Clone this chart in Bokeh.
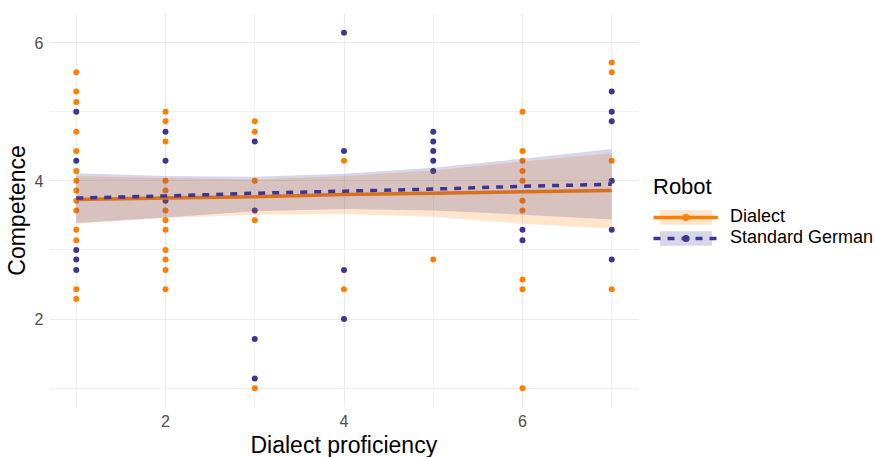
from bokeh.plotting import figure
from bokeh.models import FixedTicker, Legend, LegendItem, Range1d, Grid, Title
from bokeh.embed import file_html
from bokeh.resources import INLINE

# ---------------- data ----------------
dialect_prof = [1]*14 + [2]*12 + [3]*5 + [4]*2 + [5]*1 + [6]*10 + [7]*4
dialect_comp = [5.57, 5.29, 5.14, 4.71, 4.43, 4.14, 4.00, 3.86, 3.71, 3.57, 3.29, 3.14, 2.43, 2.29,
                5.00, 4.86, 4.57, 4.00, 3.86, 3.57, 3.43, 3.29, 3.00, 2.86, 2.71, 2.43,
                4.86, 4.71, 4.00, 3.43, 1.00,
                4.29, 2.43,
                2.86,
                5.00, 4.43, 4.29, 4.14, 4.00, 3.71, 3.57, 2.57, 2.43, 1.00,
                5.71, 5.57, 4.29, 2.43]

sg_prof = [1]*5 + [2]*3 + [3]*4 + [4]*4 + [5]*5 + [6]*2 + [7]*6
sg_comp = [5.00, 4.29, 3.00, 2.86, 2.71,
           4.71, 4.29, 3.71,
           4.57, 3.57, 1.71, 1.14,
           6.14, 4.43, 2.71, 2.00,
           4.71, 4.57, 4.43, 4.29, 4.14,
           3.29, 3.14,
           5.29, 5.00, 4.86, 4.00, 3.29, 2.86]

fit_x = [1, 2, 3, 4, 5, 6, 7]
dialect_fit = [3.73, 3.75, 3.77, 3.80, 3.82, 3.84, 3.86]
dialect_lower = [3.38, 3.46, 3.51, 3.52, 3.48, 3.38, 3.31]
dialect_upper = [4.07, 4.04, 4.02, 4.07, 4.15, 4.28, 4.40]
sg_fit = [3.75, 3.78, 3.82, 3.85, 3.88, 3.92, 3.95]
sg_lower = [3.39, 3.47, 3.56, 3.59, 3.57, 3.51, 3.44]
sg_upper = [4.11, 4.07, 4.06, 4.10, 4.19, 4.32, 4.46]

x_ticks = [2, 4, 6]
x_minor = [1, 3, 5, 7]
y_ticks = [2, 4, 6]
y_minor = [1, 3, 5]

series_names = ["Dialect", "Standard German"]
legend_title = "Robot"
x_title = "Dialect proficiency"
y_title = "Competence"

# ---------------- styling / layout ----------------
ORANGE = "#FF7F00"
PURPLE = "#3E3590"
FONT = "Liberation Sans"

X_LO, X_HI = 0.7, 7.3          # data panel extent
PANEL_W = 589                   # px of the data panel
W, H = 875, 457
LEFT, TOP, BOTTOM = 49, 13, 48
x_end = X_LO + (X_HI - X_LO) * (W - LEFT) / PANEL_W   # frame extends under the legend

p = figure(width=W, height=H, output_backend="svg", toolbar_location=None,
           x_range=Range1d(X_LO, x_end), y_range=Range1d(0.72, 6.42),
           min_border_left=LEFT, min_border_right=0, min_border_top=TOP, min_border_bottom=BOTTOM)
p.outline_line_color = None
p.background_fill_color = "white"
p.border_fill_color = "white"

# points
pts_d = p.scatter(dialect_prof, dialect_comp, size=6, color=ORANGE, line_color=None)
pts_s = p.scatter(sg_prof, sg_comp, size=6, color=PURPLE, line_color=None)

# smooth fits with confidence bands
rib_d = p.varea(x=fit_x, y1=dialect_lower, y2=dialect_upper, fill_color=ORANGE, fill_alpha=0.2)
line_d = p.line(fit_x, dialect_fit, line_color=ORANGE, line_width=3.5)
rib_s = p.varea(x=fit_x, y1=sg_lower, y2=sg_upper, fill_color=PURPLE, fill_alpha=0.2)
line_s = p.line(fit_x, sg_fit, line_color=PURPLE, line_width=3.5, line_dash="7 7")

# axes
for ax, ticks, minor in ((p.xaxis[0], x_ticks, x_minor), (p.yaxis[0], y_ticks, y_minor)):
    ax.ticker = FixedTicker(ticks=ticks, minor_ticks=minor)
    ax.axis_line_color = None
    ax.major_tick_line_color = None
    ax.minor_tick_line_color = None
    ax.major_tick_out = 0
    ax.minor_tick_out = 0
    ax.major_tick_in = 0
    ax.minor_tick_in = 0
    ax.major_label_text_font = FONT
    ax.major_label_text_font_size = "16px"
    ax.major_label_text_color = "#4D4D4D"
    ax.major_label_standoff = 6
    ax.axis_label_text_font = FONT
    ax.axis_label_text_font_size = "23px"
    ax.axis_label_text_font_style = "normal"
    ax.axis_label_text_color = "black"

p.xaxis.bounds = (X_LO, X_HI)
p.xaxis.major_label_standoff = 7
p.yaxis.axis_label = y_title
p.yaxis.axis_label_standoff = 2

# x-axis title, centred under the data panel
p.add_layout(Title(text=x_title, align="left", offset=201, standoff=0,
                   text_font=FONT, text_font_size="23px", text_font_style="normal",
                   text_color="black"), "below")

for g in (p.xgrid[0], p.ygrid[0]):
    g.grid_line_color = "#EBEBEB"
    g.grid_line_width = 1.1
    g.minor_grid_line_color = "#F1F1F1"
    g.minor_grid_line_width = 1
if "cross_bounds" in Grid.properties():
    p.ygrid[0].cross_bounds = (X_LO, X_HI)

legend = Legend(items=[LegendItem(label=series_names[0], renderers=[rib_d, line_d, pts_d]),
                       LegendItem(label=series_names[1], renderers=[rib_s, line_s, pts_s])],
                location=(PANEL_W + 15, 159), title=legend_title,
                title_text_font=FONT, title_text_font_size="22px", title_text_font_style="normal",
                title_text_color="black", title_standoff=6,
                label_text_font=FONT, label_text_font_size="18px", label_text_color="black",
                label_text_line_height=1.0, label_height=18,
                glyph_width=65, glyph_height=18, label_standoff=12, spacing=0,
                padding=0, margin=0, background_fill_alpha=0, border_line_alpha=0)
p.add_layout(legend)

open("out.html", "w").write(file_html(p, INLINE))
